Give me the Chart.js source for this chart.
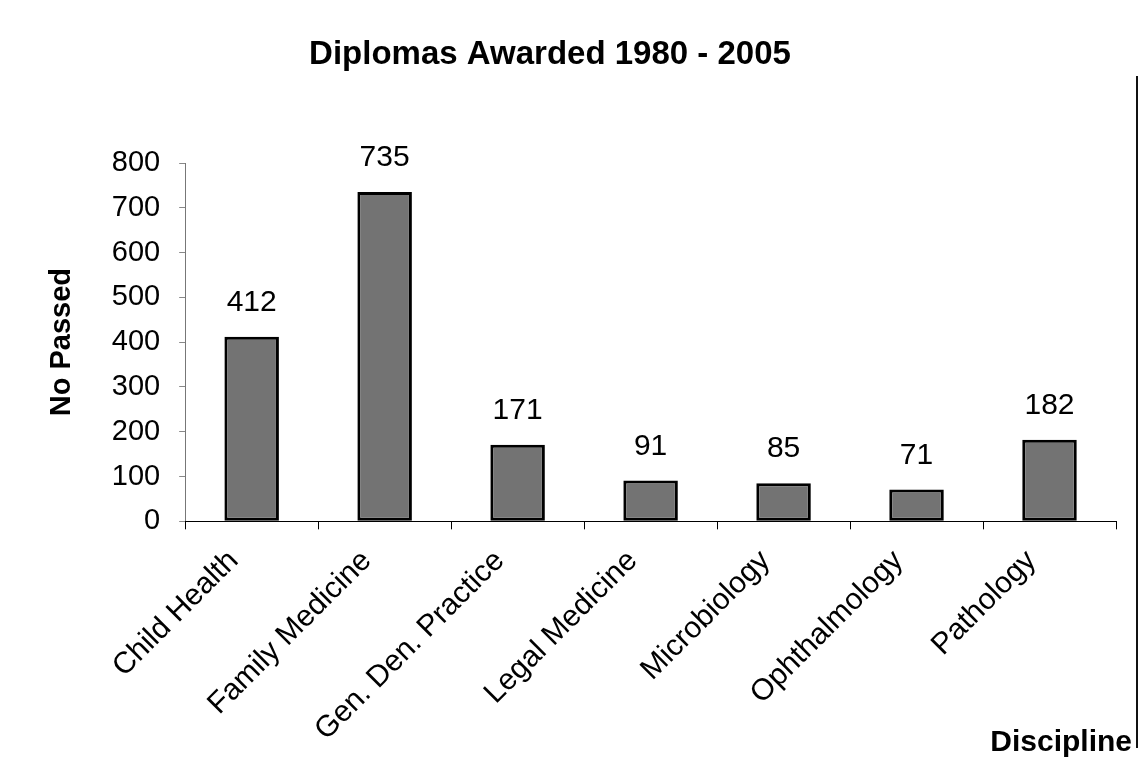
<!DOCTYPE html>
<html>
<head>
<meta charset="utf-8">
<script src="https://cdn.jsdelivr.net/npm/chart.js@4"></script>
<style>
  html, body { margin: 0; padding: 0; background: #fff; }
  #wrap { width: 1141px; height: 769px; position: relative; }
  #edge { position: absolute; left: 1136px; top: 76px; width: 2px; height: 672px; background: #111; }
</style>
</head>
<body>
<div id="wrap"><canvas id="chart" width="1141" height="769"></canvas><div id="edge"></div></div>
<script>
(function () {
  "use strict";

  var disciplines = [
    "Child Health",
    "Family Medicine",
    "Gen. Den. Practice",
    "Legal Medicine",
    "Microbiology",
    "Ophthalmology",
    "Pathology"
  ];
  var passed = [412, 735, 171, 91, 85, 71, 182];
  var yTicks = [0, 100, 200, 300, 400, 500, 600, 700, 800];

  var FONT = "'Liberation Sans', Arial, sans-serif";

  // title, numbers above the bars and the "Discipline" caption
  var extraText = {
    id: "extraText",
    afterDatasetsDraw: function (chart) {
      var ctx = chart.ctx;
      var meta = chart.getDatasetMeta(0);
      ctx.save();
      ctx.fillStyle = "#000";

      ctx.font = "bold 33px " + FONT;
      ctx.textAlign = "center";
      ctx.textBaseline = "middle";
      ctx.fillText("Diplomas Awarded 1980 - 2005", 550, 55);

      ctx.font = "30px " + FONT;
      ctx.textBaseline = "alphabetic";
      meta.data.forEach(function (bar, i) {
        ctx.fillText(String(passed[i]), bar.x, bar.y - 26);
      });

      ctx.font = "bold 30px " + FONT;
      ctx.textAlign = "right";
      ctx.textBaseline = "middle";
      ctx.fillText("Discipline", 1132, 743);
      ctx.restore();
    }
  };

  new Chart(document.getElementById("chart"), {
    type: "bar",
    data: {
      labels: disciplines,
      datasets: [
        {
          label: "No Passed",
          data: passed,
          backgroundColor: "#737373",
          borderColor: "#000",
          borderWidth: 3,
          borderSkipped: false,
          barPercentage: 0.41,
          categoryPercentage: 1
        }
      ]
    },
    options: {
      responsive: false,
      animation: false,
      layout: { padding: { left: 40, right: 25, top: 163, bottom: 7 } },
      plugins: {
        legend: { display: false },
        tooltip: { enabled: false },
        title: { display: false }
      },
      scales: {
        y: {
          min: 0,
          max: 800,
          afterBuildTicks: function (axis) {
            axis.ticks = yTicks.map(function (v) { return { value: v }; });
          },
          ticks: {
            color: "#000",
            font: { family: FONT, size: 29 },
            padding: 19
          },
          grid: {
            drawOnChartArea: false,
            drawTicks: true,
            tickLength: 6,
            color: "#888"
          },
          border: { display: true, color: "#777", dash: [2, 3], width: 1 },
          title: {
            display: true,
            text: "No Passed",
            color: "#000",
            font: { family: FONT, size: 29, weight: "bold" },
            padding: { top: 5, bottom: 13 }
          }
        },
        x: {
          offset: true,
          ticks: {
            color: "#000",
            font: { family: FONT, size: 30 },
            maxRotation: 45,
            minRotation: 45,
            padding: 14,
            labelOffset: -18
          },
          grid: {
            offset: true,
            drawOnChartArea: false,
            drawTicks: true,
            tickLength: 8,
            color: "#000"
          },
          border: { display: true, color: "#000", width: 1 }
        }
      }
    },
    plugins: [extraText]
  });
})();
</script>
</body>
</html>
